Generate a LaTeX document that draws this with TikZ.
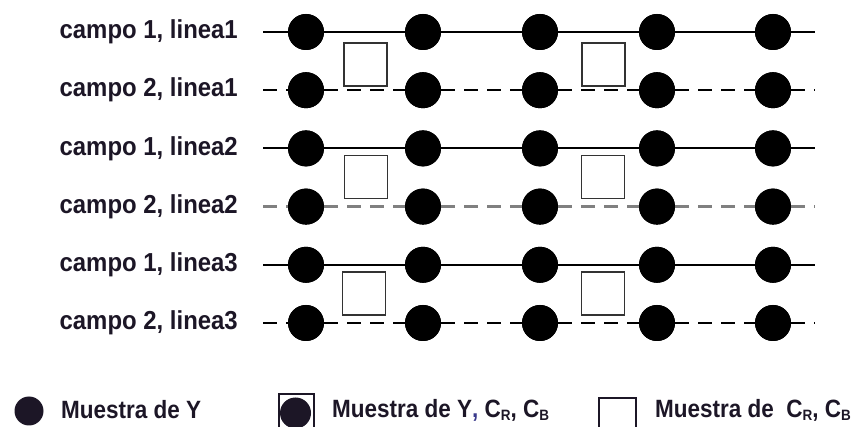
\documentclass[tikz,border=0pt]{standalone}
\usepackage{fontspec}
\setmainfont{Liberation Sans}
\newfontfamily\labfont[FakeStretch=0.92]{Liberation Sans}
\newfontfamily\legfont[FakeStretch=0.90]{Liberation Sans}
\definecolor{ink}{HTML}{1C1626}
\definecolor{sqc}{HTML}{333333}
\definecolor{commablue}{HTML}{3A3A8C}
\newcommand{\subl}[1]{\raisebox{-3.5pt}{\fontsize{15}{15}\selectfont #1}}
\begin{document}
\begin{tikzpicture}[x=1pt,y=-1pt,
  dot/.style={circle, fill=black, minimum size=36pt, inner sep=0pt, outer sep=0pt},
  lbl/.style={anchor=east, inner sep=0pt, font=\labfont\fontsize{26}{26}\selectfont\bfseries, text=ink},
  leg/.style={anchor=west, inner sep=0pt, font=\legfont\fontsize{25}{25}\selectfont\bfseries, text=ink},
  solidline/.style={line width=2pt, black},
  dashline/.style={line width=2.2pt, black, dash pattern=on 14pt off 9pt},
  chroma/.style={draw=sqc, line width=1.6pt, minimum size=43pt, inner sep=0pt}]
\useasboundingbox (0,0) rectangle (855,427);
\clip (0,0) rectangle (855,427);
% rows
\foreach \i/\txt in {1/{campo 1, linea1},2/{campo 2, linea1},3/{campo 1, linea2},4/{campo 2, linea2},5/{campo 1, linea3},6/{campo 2, linea3}}{
  \pgfmathsetmacro{\yy}{32+58.2*(\i-1)}
  \node[lbl] (l\i) at (238,\yy) {\txt};
  \coordinate (s\i) at (263,\yy);
  \coordinate (e\i) at (815,\yy);
  \foreach \j/\xx in {1/306,2/423,3/540,4/657,5/773}{
    \node[dot] (r\i c\j) at (\xx,\yy) {};
  }
}
% solid lines (field 1)
\foreach \i in {1,3,5}{
  \draw[solidline] (s\i) -- (r\i c1) -- (r\i c2) -- (r\i c3) -- (r\i c4) -- (r\i c5) -- (e\i);
}
% dashed lines (field 2)
\foreach \i/\col in {2/black,4/gray,6/black}{
  \draw[dashline,draw=\col] (s\i) -- (r\i c1);
  \draw[dashline,draw=\col] (r\i c1) -- (r\i c2);
  \draw[dashline,draw=\col] (r\i c2) -- (r\i c3);
  \draw[dashline,draw=\col] (r\i c3) -- (r\i c4);
  \draw[dashline,draw=\col] (r\i c4) -- (r\i c5);
  \draw[dashline,draw=\col] (r\i c5) -- (e\i);
}
% redraw dots on top
\foreach \i in {1,...,6}{
  \foreach \j/\xx in {1/306,2/423,3/540,4/657,5/773}{
    \fill[black] (r\i c\j) circle (18pt);
  }
}
% chroma squares
\node[chroma] (q1a) at (365.5,64.5) {};
\node[chroma] (q1b) at (603.5,64.5) {};
\node[chroma] (q2a) at (366,177) {};
\node[chroma] (q2b) at (603,177) {};
\node[chroma] (q3a) at (364,293.5) {};
\node[chroma] (q3b) at (603,293.5) {};
% legend
\node[circle, fill=ink, minimum size=29pt, inner sep=0pt] (g1) at (29,411) {};
\node[leg] (t1) at (61,410) {Muestra de Y};
\node[draw=ink, line width=2pt, minimum width=35pt, minimum height=50pt, inner sep=0pt, anchor=north west] (g2) at (278,393) {};
\node[circle, fill=ink, minimum size=31pt, inner sep=0pt] (g2c) at (295.5,413) {};
\node[leg] (t2) at (332,410) {Muestra de Y{\color{commablue},} C\subl{R}, C\subl{B}};
\node[draw=ink, line width=2pt, minimum width=37pt, minimum height=45pt, inner sep=0pt, anchor=north west] (g3) at (598,397) {};
\node[leg, anchor=east] (t3) at (851,410) {Muestra de\ \ C\subl{R}, C\subl{B}};
\end{tikzpicture}
\end{document}
